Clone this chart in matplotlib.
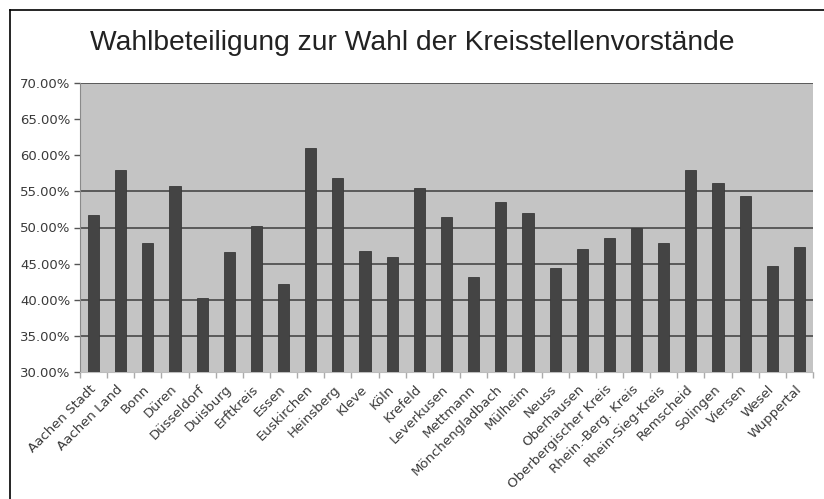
import matplotlib
matplotlib.use("Agg")
import matplotlib.pyplot as plt
from matplotlib.lines import Line2D
import numpy as np

title = "Wahlbeteiligung zur Wahl der Kreisstellenvorstände"
categories = ["Aachen Stadt", "Aachen Land", "Bonn", "Düren", "Düsseldorf", "Duisburg",
              "Erftkreis", "Essen", "Euskirchen", "Heinsberg", "Kleve", "Köln", "Krefeld",
              "Leverkusen", "Mettmann", "Mönchengladbach", "Mülheim", "Neuss", "Oberhausen",
              "Oberbergischer Kreis", "Rhein.-Berg. Kreis", "Rhein-Sieg-Kreis", "Remscheid",
              "Solingen", "Viersen", "Wesel", "Wuppertal"]
turnout = [51.7, 57.9, 47.8, 55.7, 40.3, 46.6, 50.2, 42.2, 61.0, 56.9, 46.7, 45.9, 55.4,
           51.4, 43.2, 53.5, 52.0, 44.4, 47.0, 48.5, 49.9, 47.8, 58.0, 56.2, 54.4, 44.7, 47.3]
y_ticks = [30, 35, 40, 45, 50, 55, 60, 65, 70]
grid_full = [35, 40, 50, 55, 70]
grid_partial = [45]

fig = plt.figure(figsize=(8.24, 4.99), dpi=100)
fig.patch.set_facecolor("white")
ax = fig.add_axes([80/824, 1-372/499, (813-80)/824, (372-83)/499])
ax.set_facecolor("#c4c4c4")

x = np.arange(len(categories))
ax.bar(x, turnout, width=0.41, color="#444444", edgecolor="#3a3a3a", linewidth=0.6, zorder=3)

for g in grid_full:
    ax.axhline(g, color="#5a5a5a", linewidth=1.4, zorder=1)
for g in grid_partial:
    ax.hlines(g, 6.2, 21.8, color="#5a5a5a", linewidth=1.4, zorder=1)

ax.set_xlim(-0.5, len(categories) - 0.5)
ax.set_ylim(30, 70)
ax.set_yticks(y_ticks)
ax.set_yticklabels([f"{v:.2f}%" for v in y_ticks], fontsize=9.5, color="#3a3a3a",
                   family="DejaVu Sans")
ax.tick_params(axis="y", length=4, width=1, color="#555555", pad=3)

ax.set_xticks(x)
ax.set_xticklabels(categories, rotation=45, ha="right", va="center", rotation_mode="anchor",
                   fontsize=9.5, color="#3a3a3a", family="DejaVu Sans")
ax.tick_params(axis="x", length=0, pad=11)
ax.set_xticks(np.arange(len(categories) + 1) - 0.5, minor=True)
ax.tick_params(axis="x", which="minor", length=4, width=1, color="#aaaaaa")

for s in ["top", "right"]:
    ax.spines[s].set_visible(False)
ax.spines["left"].set_color("#8a8a8a")
ax.spines["bottom"].set_color("#bdbdbd")

fig.text(412/824, 1-43/499, title, ha="center", va="center", fontsize=20.3,
         family="Liberation Sans", color="#222222")

fig.add_artist(Line2D([10/824, 10/824], [0, 1-10/499], transform=fig.transFigure,
                      color="black", linewidth=1.2))
fig.add_artist(Line2D([10/824, 1], [1-10/499, 1-10/499], transform=fig.transFigure,
                      color="black", linewidth=1.2))

fig.savefig("out.png", dpi=100)
